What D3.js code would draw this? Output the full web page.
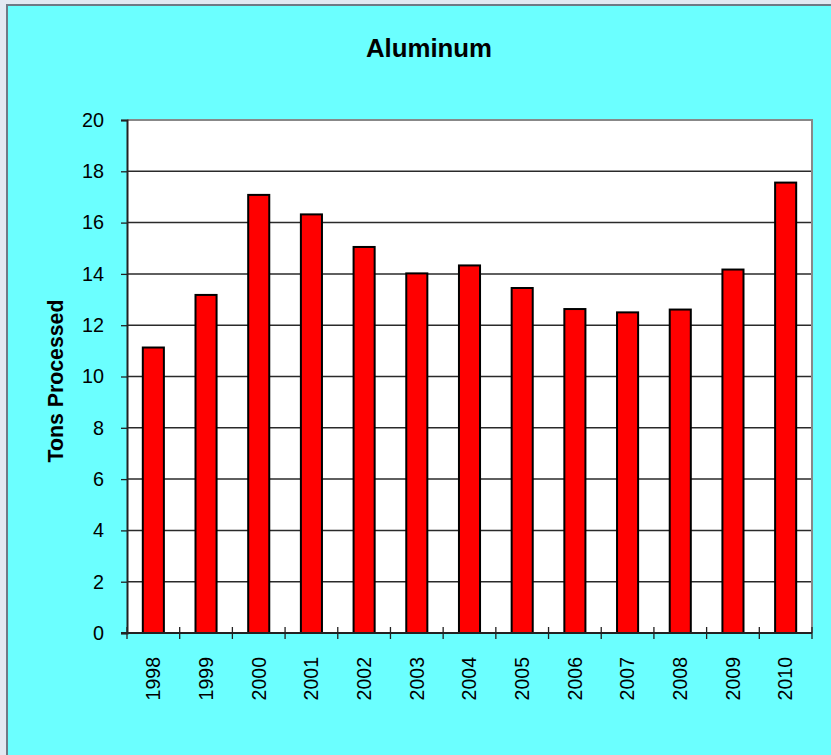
<!DOCTYPE html>
<html>
<head>
<meta charset="utf-8">
<script src="https://cdn.jsdelivr.net/npm/d3@7"></script>
<style>
  html, body { margin: 0; padding: 0; background: #e2e9f2; }
  svg { display: block; }
</style>
</head>
<body>
<script>
const chartTitle = "Aluminum";
const yAxisTitle = "Tons Processed";
const years = ["1998","1999","2000","2001","2002","2003","2004","2005","2006","2007","2008","2009","2010"];
const tons = [11.13, 13.18, 17.08, 16.32, 15.05, 14.02, 14.33, 13.45, 12.63, 12.50, 12.61, 14.17, 17.56];
const yTicks = [0, 2, 4, 6, 8, 10, 12, 14, 16, 18, 20];

const W = 831, H = 755;
const plot = { left: 127, right: 812, top: 120, bottom: 633 };

const svg = d3.select("body").append("svg").attr("width", W).attr("height", H);

// outer textured background
svg.append("rect").attr("x", 0).attr("y", 0).attr("width", W).attr("height", H).attr("fill", "#e2e9f2");

// chart box
svg.append("rect").attr("x", 7).attr("y", 5).attr("width", W + 20).attr("height", H + 20)
  .attr("fill", "#6bffff").attr("stroke", "#6e7a86").attr("stroke-width", 2);

// plot area
svg.append("rect").attr("x", plot.left).attr("y", plot.top)
  .attr("width", plot.right - plot.left).attr("height", plot.bottom - plot.top)
  .attr("fill", "#ffffff");

const x = d3.scaleBand().domain(years).range([plot.left, plot.right]).padding(0);
const y = d3.scaleLinear().domain([0, 20]).range([plot.bottom, plot.top]);

// gridlines
svg.append("g").selectAll("line").data(yTicks.filter(d => d > 0 && d < 20)).join("line")
  .attr("x1", plot.left).attr("x2", plot.right)
  .attr("y1", d => y(d)).attr("y2", d => y(d))
  .attr("stroke", "#2a2a2a").attr("stroke-width", 1.5);

// top & right plot border
svg.append("path")
  .attr("d", `M${plot.left},${plot.top}H${plot.right}V${plot.bottom}`)
  .attr("fill", "none").attr("stroke", "#888").attr("stroke-width", 2);

// bars
const barFrac = 0.4;
svg.append("g").selectAll("rect").data(years).join("rect")
  .attr("x", (d) => x(d) + x.bandwidth() * (1 - barFrac) / 2)
  .attr("width", x.bandwidth() * barFrac)
  .attr("y", (d, i) => y(tons[i]))
  .attr("height", (d, i) => y(0) - y(tons[i]))
  .attr("fill", "#ff0000").attr("stroke", "#000").attr("stroke-width", 2);

// y axis
const yAxis = svg.append("g").attr("transform", `translate(${plot.left},0)`)
  .call(d3.axisLeft(y).tickValues(yTicks).tickSize(6).tickPadding(17).tickFormat(d3.format("d")));
yAxis.select(".domain").attr("stroke", "#222").attr("stroke-width", 2);
yAxis.selectAll(".tick line").attr("stroke", "#222").attr("stroke-width", 1.3);
yAxis.selectAll(".tick text").attr("font-family", "Liberation Sans, Arial, sans-serif")
  .attr("font-size", 19.8).attr("fill", "#000");

// x axis baseline
svg.append("line").attr("x1", plot.left - 6).attr("x2", plot.right)
  .attr("y1", plot.bottom).attr("y2", plot.bottom)
  .attr("stroke", "#222").attr("stroke-width", 2);

// category tick marks (cross)
const bounds = years.map(d => x(d)).concat([x(years[years.length - 1]) + x.bandwidth()]);
svg.append("g").selectAll("line").data(bounds).join("line")
  .attr("x1", d => d).attr("x2", d => d)
  .attr("y1", plot.bottom - 6).attr("y2", plot.bottom + 6)
  .attr("stroke", "#222").attr("stroke-width", 1.3);

// category labels, rotated
svg.append("g").selectAll("text").data(years).join("text")
  .attr("transform", d => `translate(${x(d) + x.bandwidth() / 2},657) rotate(-90)`)
  .attr("text-anchor", "end").attr("dy", "0.35em")
  .attr("font-family", "Liberation Sans, Arial, sans-serif").attr("font-size", 19.5)
  .attr("fill", "#000")
  .text(d => d);

// title
svg.append("text").attr("x", 429).attr("y", 57).attr("text-anchor", "middle")
  .attr("font-family", "Liberation Sans, Arial, sans-serif").attr("font-size", 25.8)
  .attr("font-weight", "bold").attr("fill", "#000").text(chartTitle);

// y axis title
svg.append("text").attr("transform", "translate(63,381) rotate(-90)")
  .attr("text-anchor", "middle")
  .attr("font-family", "Liberation Sans, Arial, sans-serif").attr("font-size", 21.3)
  .attr("font-weight", "bold").attr("fill", "#000").text(yAxisTitle);
</script>
</body>
</html>
